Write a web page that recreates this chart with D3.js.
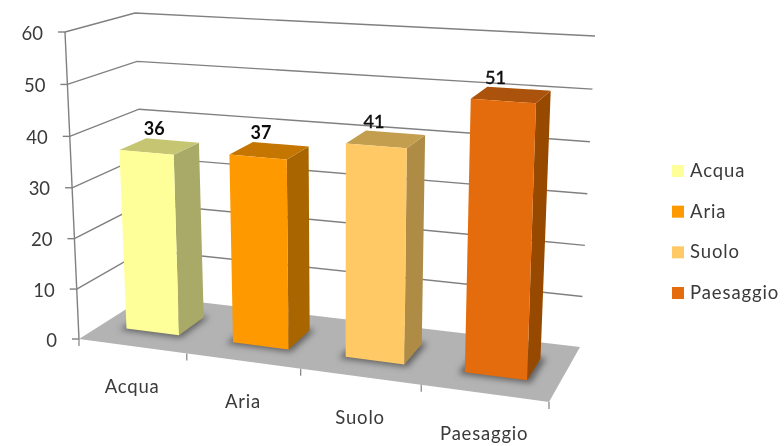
<!DOCTYPE html>
<html>
<head>
<meta charset="utf-8">
<style>html,body{margin:0;padding:0;background:#fff}svg{display:block}text{font-family:Lato,"Open Sans",sans-serif}</style>
<script src="https://cdn.jsdelivr.net/npm/d3@7"></script>
</head>
<body>
<script>
const categories = ["Acqua", "Aria", "Suolo", "Paesaggio"];
const values = [36, 37, 41, 51];
const yTicks = [0, 10, 20, 30, 40, 50, 60];
const frontColors = ["#FFFF99", "#FF9900", "#FFC966", "#E46C0A"];
const sideColors = ["#A9A968", "#A96500", "#AE8C45", "#984A06"];
const topColors = ["#C6C672", "#C47600", "#C49E50", "#AB5308"];
const labelWeights = [700, 700, 400, 400];
const labelStrokes = [0, 0, 0.45, 0.45];

const W = 784, H = 446;
const svg = d3.select("body").append("svg").attr("width", W).attr("height", H);
const defs = svg.append("defs");
defs.append("filter").attr("id", "soft").attr("x", "-5%").attr("y", "-5%").attr("width", "110%").attr("height", "110%")
  .append("feGaussianBlur").attr("stdDeviation", 0.45);
defs.append("filter").attr("id", "shadow").attr("x", "-30%").attr("y", "-30%").attr("width", "160%").attr("height", "160%")
  .append("feGaussianBlur").attr("stdDeviation", 3);

// Plot box corners on screen: [front/back][left/right][bottom/top]
const box = {
  flb: [79, 339], flt: [65, 32], frb: [549, 402], frt: [560, 64],
  blb: [147, 296], blt: [135, 13], brb: [580, 347], brt: [595, 36]
};
const yScale = d3.scaleLinear().domain([0, 60]).range([0, 1]);
const xBand = d3.scaleBand().domain(categories).range([0, 1]).paddingInner(0.5).paddingOuter(0.25);
const persp = (u, k) => u / (u + k * (1 - u));
const lerp = (a, b, t) => [a[0] + (b[0] - a[0]) * t, a[1] + (b[1] - a[1]) * t];
// u: along categories, d: depth, v: chart value
function project(u, d, v) {
  const t = persp(u, 1.12), h = persp(yScale(v), 1.03);
  const fb = lerp(box.flb, box.frb, t), ft = lerp(box.flt, box.frt, t);
  const bb = lerp(box.blb, box.brb, t), bt = lerp(box.blt, box.brt, t);
  return lerp(lerp(fb, bb, d), lerp(ft, bt, d), h);
}
const line = d3.line();
const closed = pts => line(pts) + "Z";
const g = svg.append("g").attr("filter", "url(#soft)");

// floor
g.append("path").attr("fill", "#B3B3B3")
  .attr("d", closed([project(0, 0, 0), project(0, 1, 0), project(1, 1, 0), project(1, 0, 0)]));

// gridlines on side and back walls
g.selectAll("path.grid").data(yTicks.filter(t => t > 0)).join("path").attr("class", "grid")
  .attr("fill", "none").attr("stroke", "#808080").attr("stroke-width", 1.4)
  .attr("d", t => line([project(0, 0, t), project(0, 1, t), project(1, 1, t)]));

// value axis, with ticks
const tickLen = 7;
g.append("path").attr("fill", "none").attr("stroke", "#808080").attr("stroke-width", 1.4)
  .attr("d", line([project(0, 0, 0), project(0, 0, 60)]));
g.selectAll("path.ytick").data(yTicks).join("path").attr("class", "ytick")
  .attr("stroke", "#808080").attr("stroke-width", 1.4)
  .attr("d", t => { const p = project(0, 0, t); return line([p, [p[0] - tickLen, p[1]]]); });
g.selectAll("text.ylab").data(yTicks).join("text").attr("class", "ylab")
  .attr("text-anchor", "end").attr("fill", "#3a3a3a").attr("font-size", 18.5)
  .attr("x", t => project(0, 0, t)[0] - 22).attr("y", t => project(0, 0, t)[1] + 7.5)
  .text(t => t);

// category axis ticks and labels
const catEdges = d3.range(categories.length + 1).map(i => i / categories.length);
g.selectAll("path.xtick").data(catEdges).join("path").attr("class", "xtick")
  .attr("stroke", "#808080").attr("stroke-width", 1.2)
  .attr("d", u => { const p = project(u, 0, 0); return line([p, [p[0], p[1] + 7]]); });
g.selectAll("text.xlab").data(categories).join("text").attr("class", "xlab")
  .attr("text-anchor", "middle").attr("fill", "#3a3a3a").attr("font-size", 18.5).attr("letter-spacing", 0.8)
  .attr("x", c => project(xBand(c) + xBand.bandwidth() / 2, 0, 0)[0])
  .attr("y", c => project(xBand(c) + xBand.bandwidth() / 2, 0, 0)[1] + 47)
  .text(c => c);

// bars
const d0 = 0.32, d1 = 0.72;
categories.forEach((c, i) => {
  const u0 = xBand(c), u1 = u0 + xBand.bandwidth(), v = values[i];
  const m = 0.01;
  g.append("path").attr("fill", "#5e5e5e").attr("filter", "url(#shadow)")
    .attr("d", closed([project(u0 - m, d0 - 0.04, 0), project(u0 - m, d1 + 0.02, 0), project(u1 + m, d1 + 0.02, 0), project(u1 + m, d0 - 0.04, 0)]));
  g.append("path").attr("fill", sideColors[i])
    .attr("d", closed([project(u1, d0, 0), project(u1, d1, 0), project(u1, d1, v), project(u1, d0, v)]));
  g.append("path").attr("fill", topColors[i])
    .attr("d", closed([project(u0, d0, v), project(u0, d1, v), project(u1, d1, v), project(u1, d0, v)]));
  g.append("path").attr("fill", frontColors[i])
    .attr("d", closed([project(u0, d0, 0), project(u1, d0, 0), project(u1, d0, v), project(u0, d0, v)]));
  const a = project(u0, d1, v);
  g.append("text").attr("text-anchor", "middle").attr("fill", "#111").attr("stroke", "#111")
    .attr("stroke-width", labelStrokes[i])
    .attr("font-size", 18).attr("font-weight", labelWeights[i])
    .attr("x", a[0] + 8).attr("y", a[1] - 3).text(v);
});

// legend
const legendY = d3.scalePoint().domain(categories).range([171, 293]);
const lg = g.selectAll("g.leg").data(categories).join("g").attr("class", "leg")
  .attr("transform", c => `translate(672,${legendY(c)})`);
lg.append("rect").attr("x", 0).attr("y", -6).attr("width", 12).attr("height", 12)
  .attr("fill", (c, i) => frontColors[i]);
lg.append("text").attr("x", 18).attr("y", 6).attr("fill", "#3a3a3a").attr("font-size", 18.5).attr("letter-spacing", 0.9).text(c => c);
</script>
</body>
</html>
